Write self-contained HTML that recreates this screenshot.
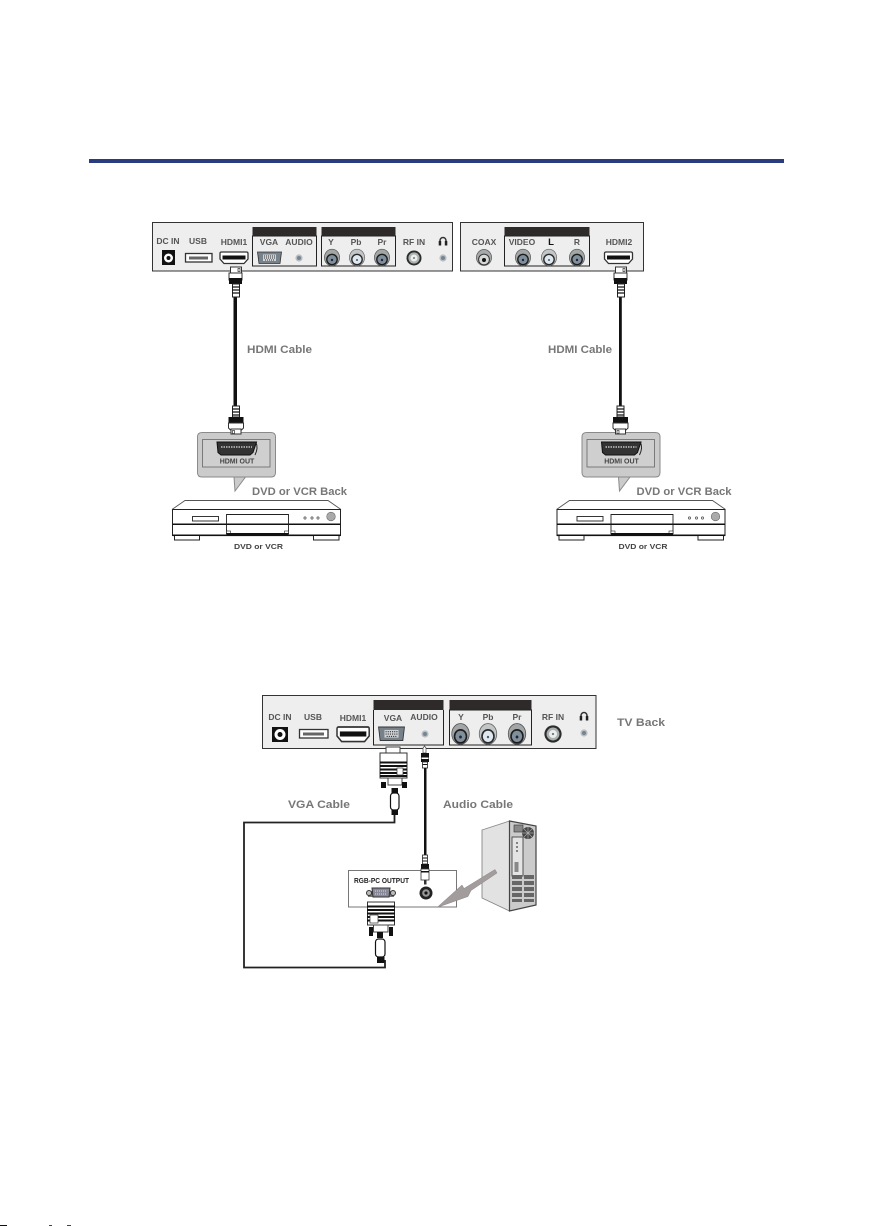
<!DOCTYPE html>
<html><head><meta charset="utf-8"><style>
html,body{margin:0;padding:0;background:#fff}
svg{display:block}
text{font-family:"Liberation Sans",sans-serif;font-weight:700}
.p{font-size:8.5px;fill:#555;text-anchor:middle}
.l{font-size:11px;fill:#777}
.s{font-size:7px;fill:#444;text-anchor:middle}
</style></head><body>
<svg width="874" height="1226" viewBox="0 0 874 1226" xmlns="http://www.w3.org/2000/svg">
<defs>
<g id="rca"><ellipse cy="-0.5" rx="7.600" ry="8.300" fill="#a2a6a6" stroke="#555" stroke-width=".7"/><circle cy="1.500" r="5.900" fill="#1d1d1d"/><circle cy="1.500" r="4.500" fill="#7f909c"/><circle cy="2" r="1.200" fill="#223"/></g>
<g id="rcaw"><ellipse cy="-0.5" rx="7.600" ry="8.300" fill="#c2c6c6" stroke="#666" stroke-width=".7"/><circle cy="1.500" r="5.900" fill="#2a2a2a"/><circle cy="1.500" r="4.500" fill="#dfe8ee"/><circle cy="2" r="1" fill="#456"/></g>
<g id="rf"><circle r="7.500" fill="#2c2c2c"/><circle r="5.600" fill="#a9b1b1"/><circle r="3.500" fill="#eceeee"/><circle r="1" fill="#777"/></g>
<g id="dot"><circle r="3.600" fill="#b7bdc2"/><circle r="2" fill="#76848f"/></g>
<g id="hdmi"><path d="M0 1.500Q0 0 1.500 0H26.500Q28 0 28 1.500V7L24 11.500H4L0 7Z" fill="#fff" stroke="#333" stroke-width="1.300"/><rect x="2.500" y="3.500" width="23" height="4" fill="#111"/></g>
<g id="vgap"><path d="M0.500 0H24.500L23 11.500H2Z" fill="#77818a" stroke="#333" stroke-width=".8"/><rect x="6" y="2.500" width="13" height="6.500" fill="#cfd3d6"/><path d="M7 4H18M7 6H18M8 8H17" stroke="#333" stroke-width="1" stroke-dasharray="1 1"/></g>
<g id="headph"><path d="M-3 3V0.500A3 3 0 0 1 3 0.500V3" fill="none" stroke="#333" stroke-width="1.500"/><rect x="-4.300" y="1" width="2.500" height="4.500" fill="#222"/><rect x="1.800" y="1" width="2.500" height="4.500" fill="#222"/></g>
<g id="plugTop"><rect x="-4.500" y="0" width="11" height="6" fill="#fff" stroke="#333"/><rect x="3" y="1.500" width="2" height="3" fill="#fff" stroke="#333" stroke-width=".7"/><path d="M-6 6H7V13L5 16H-4L-6 13Z" fill="#fff" stroke="#333"/><rect x="-6" y="11" width="13" height="6" fill="#111"/><rect x="-2.500" y="17" width="7" height="13" fill="#fff" stroke="#222"/><path d="M-2.500 20H4.500M-2.500 23H4.500M-2.500 26H4.500" stroke="#111" stroke-width="1.300"/></g>
<g id="plugBot"><rect x="-3" y="0" width="7" height="11" fill="#fff" stroke="#222"/><path d="M-3 3H4M-3 6H4M-3 9H4" stroke="#111" stroke-width="1.300"/><rect x="-7" y="11" width="15" height="6" fill="#111"/><path d="M-7 17H8V22L6 24H-5L-7 22Z" fill="#fff" stroke="#333"/><rect x="-4.500" y="23" width="10" height="5" fill="#fff" stroke="#333"/><rect x="-3" y="24.500" width="2" height="3" fill="#fff" stroke="#333" stroke-width=".7"/></g>
<g id="dvdset">
<path d="M201.500 477H271Q275.500 477 275.500 472.500V437Q275.500 432.500 271 432.500H202Q197.500 432.500 197.500 437V472.500Q197.500 477 202 477H234L235 491L245.500 477Z" fill="#cbcbcb" stroke="#8a8a8a"/>
<rect x="202.500" y="439.500" width="67.500" height="27.500" fill="#cfcfcf" stroke="#666" stroke-width=".8"/>
<path d="M217 442H256.500L253 452.500L250 455H221L218 452.500Z" fill="#333" stroke="#111"/>
<path d="M221 447H252" stroke="#ddd" stroke-width="1.300" stroke-dasharray="1.500 1"/>
<path d="M256 442.500Q258.500 448 255 455" fill="none" stroke="#222"/>
<text class="s" x="237" y="463.500">HDMI OUT</text>
<path d="M172 509.500L185 500.500H328L341 509.500" fill="none" stroke="#555" stroke-width=".9"/>
<rect x="172.500" y="509.500" width="168" height="26" fill="#fff" stroke="#222"/>
<rect x="172.500" y="523.500" width="168" height="1.500" fill="#111"/>
<rect x="172.500" y="534.500" width="168" height="1.600" fill="#111"/>
<rect x="192.500" y="516.500" width="26" height="4.500" fill="#fff" stroke="#222" stroke-width=".9"/>
<path d="M226.500 534V514.500H288.500V534" fill="#fff" stroke="#222" stroke-width=".9"/>
<rect x="226.500" y="523.500" width="62" height="1.500" fill="#111"/>
<rect x="226.500" y="531" width="4" height="3" fill="#fff" stroke="#222" stroke-width=".6"/>
<rect x="284.500" y="531" width="4" height="3" fill="#fff" stroke="#222" stroke-width=".6"/>
<rect x="226.500" y="533" width="62" height="1.500" fill="#111"/>
<circle cx="305" cy="518" r="1.100" fill="none" stroke="#444" stroke-width=".7"/>
<circle cx="312" cy="518" r="1.100" fill="none" stroke="#444" stroke-width=".7"/>
<circle cx="318" cy="518" r="1.100" fill="none" stroke="#444" stroke-width=".7"/>
<circle cx="331" cy="516.500" r="4.300" fill="#aaa" stroke="#666" stroke-width=".6"/>
<path d="M174.500 536V540H199.500V536M313.500 536V540H339V536" fill="#fff" stroke="#222"/>
<text class="l" x="252" y="495" textLength="95" lengthAdjust="spacingAndGlyphs">DVD or VCR  Back</text>
<text class="s" x="258.500" y="549" style="font-size:7.500px" textLength="49" lengthAdjust="spacingAndGlyphs">DVD or VCR</text>
</g>
</defs>

<rect x="89" y="159" width="695" height="4" fill="#2a3b7e"/>

<!-- Panel 1 -->
<rect x="152.500" y="222.500" width="300" height="48.500" fill="#eeeeee" stroke="#333" stroke-width="1"/>
<rect x="252.500" y="227" width="64" height="9.500" fill="#2e2a2a"/>
<rect x="252.500" y="236" width="64" height="30" fill="none" stroke="#222"/>
<rect x="321.500" y="227" width="74" height="9.500" fill="#2e2a2a"/>
<rect x="321.500" y="236" width="74" height="30" fill="none" stroke="#222"/>
<text class="p" x="168" y="244">DC IN</text><text class="p" x="198" y="244">USB</text><text class="p" x="234" y="245">HDMI1</text>
<text class="p" x="269" y="245">VGA</text><text class="p" x="299" y="245">AUDIO</text>
<text class="p" x="331" y="245">Y</text><text class="p" x="356" y="245">Pb</text><text class="p" x="382" y="245">Pr</text><text class="p" x="414" y="245">RF IN</text>
<use href="#headph" x="443" y="240"/>
<rect x="162" y="250" width="13" height="15" fill="#111"/><circle cx="168.500" cy="258" r="4.500" fill="#fff"/><circle cx="168.500" cy="258" r="2" fill="#111"/>
<rect x="185.500" y="253.500" width="26.500" height="8.500" fill="#fff" stroke="#333" stroke-width="1.300"/><path d="M189 256.500H208V259.500H189Z" fill="#666"/>
<use href="#hdmi" x="220" y="252"/><use href="#vgap" x="257" y="252"/><use href="#dot" x="299" y="258"/>
<use href="#rca" x="332" y="258"/><use href="#rcaw" x="357" y="258"/><use href="#rca" x="382" y="258"/><use href="#rf" x="414" y="258"/><use href="#dot" x="443" y="258"/>

<!-- Panel 2 -->
<rect x="460.500" y="222.500" width="183" height="48.500" fill="#eeeeee" stroke="#333" stroke-width="1"/>
<rect x="504.500" y="227" width="85" height="9.500" fill="#2e2a2a"/>
<rect x="504.500" y="236" width="85" height="30" fill="none" stroke="#222"/>
<text class="p" x="484" y="245">COAX</text><text class="p" x="522" y="245">VIDEO</text><text class="p" x="551" y="245" style="fill:#111;font-size:9.500px">L</text><text class="p" x="577" y="245">R</text><text class="p" x="619" y="245">HDMI2</text>
<use href="#rca" x="523" y="258"/><use href="#rcaw" x="549" y="258"/><use href="#rca" x="577" y="258"/>
<ellipse cx="484" cy="257.500" rx="7.600" ry="8" fill="#a5a9a9" stroke="#555" stroke-width=".7"/><circle cx="484" cy="259.500" r="5.400" fill="#d6d8d8" stroke="#333"/><circle cx="484" cy="260" r="2" fill="#111"/>
<use href="#hdmi" x="604.500" y="252"/>

<!-- HDMI cables -->
<rect x="233.500" y="295" width="3.500" height="114" fill="#111"/>
<rect x="619" y="295" width="2.800" height="114" fill="#111"/>
<use href="#plugTop" x="235" y="267"/><use href="#plugTop" x="620" y="267"/>
<use href="#dvdset"/>
<use href="#dvdset" x="384.500"/>
<use href="#plugBot" x="235.500" y="406"/><use href="#plugBot" x="620" y="406"/>
<text class="l" x="247" y="353" textLength="65" lengthAdjust="spacingAndGlyphs">HDMI  Cable</text>
<text class="l" x="548" y="353" textLength="64" lengthAdjust="spacingAndGlyphs">HDMI  Cable</text>

<!-- Panel 3 -->
<rect x="262.500" y="695.500" width="333.500" height="53" fill="#eeeeee" stroke="#333" stroke-width="1"/>
<rect x="373.500" y="700" width="70" height="10" fill="#2e2a2a"/>
<path d="M373.500 710V745H443.500V710" fill="none" stroke="#222"/>
<rect x="449.500" y="700" width="82" height="10" fill="#2e2a2a"/>
<rect x="449.500" y="710" width="82" height="35" fill="none" stroke="#222"/>
<text class="p" x="280" y="720">DC IN</text><text class="p" x="313" y="720">USB</text><text class="p" x="353" y="721">HDMI1</text>
<text class="p" x="393" y="721">VGA</text><text class="p" x="424" y="720">AUDIO</text>
<text class="p" x="461" y="720">Y</text><text class="p" x="488" y="720">Pb</text><text class="p" x="517" y="720">Pr</text><text class="p" x="553" y="720">RF IN</text>
<use href="#headph" x="584" y="715"/>
<rect x="272" y="727" width="16" height="15" fill="#111"/><circle cx="280" cy="734.500" r="5.500" fill="#fff"/><circle cx="280" cy="734.500" r="2.500" fill="#111"/>
<rect x="299.500" y="729.500" width="28.500" height="8.500" fill="#fff" stroke="#333" stroke-width="1.300"/><path d="M303 732.500H324V735.500H303Z" fill="#666"/>
<g transform="translate(337,727) scale(1.150,1.270)"><use href="#hdmi"/></g>
<g transform="translate(378,727) scale(1.080,1.180)"><use href="#vgap"/></g>
<use href="#dot" x="425" y="734"/>
<g transform="translate(460.500,734.500) scale(1.150,1.250)"><use href="#rca"/></g>
<g transform="translate(488,734.500) scale(1.150,1.250)"><use href="#rcaw"/></g>
<g transform="translate(517,734.500) scale(1.150,1.250)"><use href="#rca"/></g>
<g transform="translate(553,734) scale(1.150)"><use href="#rf"/></g>
<use href="#dot" x="584" y="733"/>
<text class="l" x="617" y="726" textLength="48" lengthAdjust="spacingAndGlyphs">TV Back</text>
<text class="l" x="288" y="808" textLength="62" lengthAdjust="spacingAndGlyphs">VGA Cable</text>
<text class="l" x="443" y="808" textLength="70" lengthAdjust="spacingAndGlyphs">Audio Cable</text>

<!-- VGA cable -->
<path d="M394.500 812V822.500H244V967.500H385V960" fill="none" stroke="#222" stroke-width="1.800"/>
<rect x="386" y="747" width="14" height="7" fill="#fff" stroke="#444"/>
<rect x="380" y="753" width="27" height="25" fill="#fff" stroke="#333"/>
<path d="M380 762.500H407M380 766H407M380 769.500H407M380 773H407M380 776H407" stroke="#111" stroke-width="2"/>
<rect x="397" y="768" width="6" height="7" fill="#fff" stroke="#333" stroke-width=".7"/>
<rect x="388" y="778" width="14" height="7" fill="#fff" stroke="#444"/>
<rect x="381" y="782" width="5" height="6" fill="#111"/><rect x="402" y="782" width="5" height="6" fill="#111"/>
<rect x="391.500" y="788" width="6.500" height="5.500" fill="#111"/>
<rect x="390.500" y="793" width="8.500" height="17" rx="3" fill="#fff" stroke="#111" stroke-width="1.200"/>
<rect x="391.500" y="810" width="6.500" height="5" fill="#111"/>

<!-- Audio cable -->
<rect x="424" y="767" width="2.500" height="90" fill="#111"/>
<path d="M423 753V748L424.500 746L426 748V753Z" fill="#fff" stroke="#444" stroke-width=".7"/>
<rect x="421" y="753" width="8" height="9" fill="#111"/>
<rect x="421.500" y="757.500" width="7" height="1.500" fill="#fff"/>
<rect x="422.500" y="762" width="5" height="6" fill="#fff" stroke="#222" stroke-width=".8"/><path d="M422.500 764.500H427.500" stroke="#111"/>

<!-- RGB-PC box -->
<rect x="348.500" y="870.500" width="108" height="36.500" fill="#fff" stroke="#777" stroke-width="1"/>
<text x="354" y="883" style="font-size:7px;fill:#222" textLength="55" lengthAdjust="spacingAndGlyphs">RGB-PC OUTPUT</text>
<circle cx="426" cy="893" r="6.500" fill="#222"/><circle cx="426" cy="893" r="3.800" fill="#999"/><circle cx="426" cy="893" r="1.600" fill="#111"/>
<path d="M368 891H394V897H368Z" fill="#777"/><path d="M372 888H390L389 897H373Z" fill="#889" stroke="#333"/><path d="M375 891H387M375 894H387" stroke="#ddd" stroke-dasharray="1 1"/>
<circle cx="369" cy="893" r="2.500" fill="#bbb" stroke="#333"/><circle cx="393" cy="893" r="2.500" fill="#bbb" stroke="#333"/>
<rect x="367.500" y="902" width="27" height="23" fill="#fff" stroke="#333"/>
<path d="M367 906.500H395M367 910H395M367 913.500H395M367 917H395M367 920.500H395" stroke="#111" stroke-width="2"/>
<rect x="370" y="915" width="8" height="8" fill="#fff" stroke="#333" stroke-width=".7"/>
<rect x="373.500" y="925" width="14.500" height="7" fill="#fff" stroke="#444"/>
<rect x="369" y="927" width="4" height="9" fill="#111"/><rect x="389" y="927" width="4" height="9" fill="#111"/>
<rect x="377" y="932" width="6" height="6" fill="#111"/>
<rect x="375.500" y="939" width="9.500" height="18" rx="3" fill="#fff" stroke="#111" stroke-width="1.200"/>
<rect x="377" y="957" width="7.500" height="6" fill="#111"/>
<!-- lower audio plug -->
<rect x="422.500" y="855" width="5" height="9" fill="#fff" stroke="#222" stroke-width=".8"/><path d="M422.500 858H427.500M422.500 861H427.500" stroke="#111"/>
<rect x="421" y="864" width="8" height="5" fill="#111"/>
<rect x="421" y="869" width="8" height="11" fill="#fff" stroke="#333" stroke-width=".8"/><rect x="421" y="871" width="8" height="1.500" fill="#111"/>
<rect x="424" y="880" width="2.500" height="4.500" fill="#333"/>

<!-- Computer -->
<path d="M482 830L509.500 821V911L482 898Z" fill="#e2e2e2" stroke="#888" stroke-width=".9"/>
<path d="M509.500 821L536 826V905L509.500 911Z" fill="#cbcbcb" stroke="#444" stroke-width="1.200"/>
<rect x="514" y="825" width="9" height="7" fill="#888" stroke="#333" stroke-width=".6"/>
<circle cx="528" cy="833" r="6" fill="#444"/><path d="M528 827V839M522 833H534M524 829L532 837M532 829L524 837" stroke="#aaa" stroke-width=".7"/>
<rect x="512" y="837" width="11" height="39" fill="#e4e4e4" stroke="#444" stroke-width=".9"/>
<rect x="514.500" y="862" width="4" height="10" fill="#888"/>
<path d="M517 842V844M517 846V848M517 850V852" stroke="#222"/>
<g fill="#666"><rect x="512" y="875" width="10" height="4"/><rect x="524" y="875" width="10" height="4"/><rect x="512" y="881" width="10" height="4"/><rect x="524" y="881" width="10" height="4"/><rect x="512" y="887" width="10" height="4"/><rect x="524" y="887" width="10" height="4"/><rect x="512" y="893" width="10" height="4"/><rect x="524" y="893" width="10" height="4"/><rect x="512" y="899" width="10" height="3"/><rect x="524" y="899" width="10" height="3"/></g>
<path d="M437 907.500L462 885L464 888.500L495 869.500L497 873L471 890.500L468 896.500Z" fill="#a39c9c" stroke="#8a8484" stroke-width=".5"/>

<!-- Bottom edge specks -->
<rect x="0" y="1225" width="7" height="1" fill="#111"/><rect x="49" y="1225" width="3" height="1" fill="#444"/><rect x="67" y="1225" width="4" height="1" fill="#444"/>
</svg>
</body></html>
